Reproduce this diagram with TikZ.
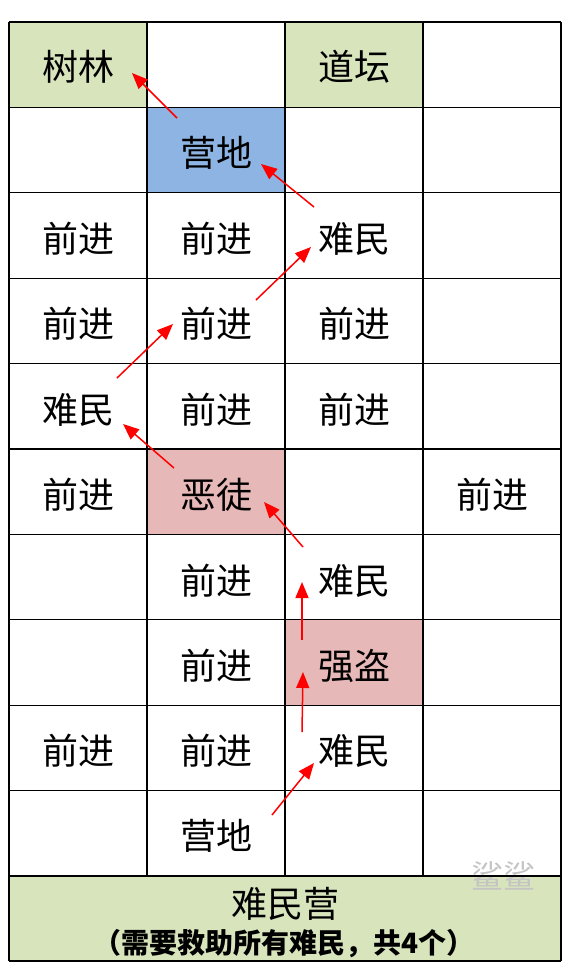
\documentclass[tikz,border=0pt]{standalone}
\usepackage{fontspec}
\setmainfont{Noto Sans CJK SC}
\usetikzlibrary{arrows.meta}
\definecolor{cgreen}{HTML}{D8E4BC}
\definecolor{cblue}{HTML}{8DB4E2}
\definecolor{cpink}{HTML}{E6B8B7}
\definecolor{wmark}{HTML}{C4C4C4}
\begin{document}
\begin{tikzpicture}[x=1pt,y=-1pt,
  cell/.style={font=\fontsize{36}{42}\selectfont, inner sep=0pt, anchor=center},
  arr/.style={draw=red, line width=1.5pt, -{Triangle[length=16pt,width=13pt]}},
  gridline/.style={line width=1.2pt, black},
  midline/.style={line width=2.4pt, black}]
\useasboundingbox (0,0) rectangle (573,964);
\fill[white] (0,0) rectangle (573,964);
% coloured cells
\fill[cgreen] (9,22) rectangle (147,107.4);
\fill[cgreen] (285,22) rectangle (423,107.4);
\fill[cblue] (147,107.4) rectangle (285,192.8);
\fill[cpink] (147,449) rectangle (285,534.4);
\fill[cpink] (285,619.8) rectangle (423,705.2);
\fill[cgreen] (9,876) rectangle (561,961);
% watermark
\node[font=\fontsize{32}{36}\selectfont, text=wmark, inner sep=0pt] (wm) at (503,876) {鲨鲨};
% grid
\foreach \k in {0,...,10} {
  \draw[gridline] (9,22+85.4*\k) -- (561,22+85.4*\k);
}
\draw[gridline] (9,961) -- (561,961);
\draw[gridline] (9,22) -- (9,961);
\draw[gridline] (561,22) -- (561,961);
\draw[gridline] (147,22) -- (147,876);
\draw[gridline] (423,22) -- (423,876);
\draw[midline] (285,22) -- (285,877);
% cell texts
\node[cell] (r0c0) at (78,67) {树林};
\node[cell] (r0c2) at (354,67) {道坛};
\node[cell] (r1c1) at (216,153) {营地};
\node[cell] (r2c0) at (78,239) {前进};
\node[cell] (r2c1) at (216,239) {前进};
\node[cell] (r2c2) at (354,239) {难民};
\node[cell] (r3c0) at (78,324) {前进};
\node[cell] (r3c1) at (216,324) {前进};
\node[cell] (r3c2) at (354,324) {前进};
\node[cell] (r4c0) at (78,410) {难民};
\node[cell] (r4c1) at (216,410) {前进};
\node[cell] (r4c2) at (354,410) {前进};
\node[cell] (r5c0) at (78,495) {前进};
\node[cell] (r5c1) at (216,495) {恶徒};
\node[cell] (r5c3) at (492,495) {前进};
\node[cell] (r6c1) at (216,581) {前进};
\node[cell] (r6c2) at (354,581) {难民};
\node[cell] (r7c1) at (216,666) {前进};
\node[cell] (r7c2) at (354,666) {强盗};
\node[cell] (r8c0) at (78,751) {前进};
\node[cell] (r8c1) at (216,751) {前进};
\node[cell] (r8c2) at (354,751) {难民};
\node[cell] (r9c1) at (216,836) {营地};
\node[cell] (camp) at (285,904) {难民营};
\node[cell, font=\fontsize{28}{32}\selectfont\bfseries] (note) at (284,944) {（需要救助所有难民，共4个）};
% arrow end points
\coordinate (a1s) at (177,118); \coordinate (a1e) at (132,73);
\coordinate (a2s) at (314,207); \coordinate (a2e) at (261,164);
\coordinate (a3s) at (256,300); \coordinate (a3e) at (311,247);
\coordinate (a4s) at (117,378); \coordinate (a4e) at (173,324);
\coordinate (a5s) at (174,468); \coordinate (a5e) at (123,424);
\coordinate (a6s) at (303,547); \coordinate (a6e) at (264,502);
\coordinate (a7s) at (302,640); \coordinate (a7e) at (302,582);
\coordinate (a8s) at (302,732); \coordinate (a8e) at (303,672);
\coordinate (a9s) at (272,815); \coordinate (a9e) at (314,763);
\foreach \i in {1,...,9} {
  \draw[arr] (a\i s) -- (a\i e);
}
\end{tikzpicture}
\end{document}
